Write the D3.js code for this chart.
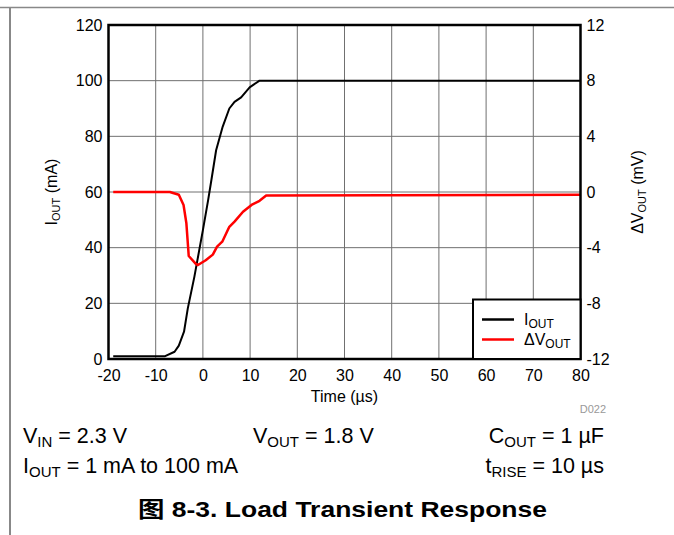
<!DOCTYPE html>
<meta charset="utf-8">
<style>
body { margin: 0; background: #fff; }
svg { font-family: "Liberation Sans", Arial, "Noto Sans CJK SC", sans-serif; }
</style>
<svg width="674" height="535"></svg>
<script src="https://d3js.org/d3.v7.min.js"></script>
<script>
// time axis (us) and tick values
var xTicks = [-20, -10, 0, 10, 20, 30, 40, 50, 60, 70, 80]
var leftTicks = [0, 20, 40, 60, 80, 100, 120]
var rightTicks = [-12, -8, -4, 0, 4, 8, 12]

// I_OUT (mA)
var iOutTime = [-19, -8, -6, -5.1, -4, -3.2, -1.8, 0, 1.1, 1.8, 2.8, 4.2, 5.6, 6.7, 8.1, 9.9, 12, 80]
var iOutMa   = [1, 1, 2.6, 4.8, 9.8, 18.2, 29.6, 46.3, 57, 64.3, 75, 83.5, 90, 92.4, 94, 97.6, 100, 100]

// delta V_OUT (mV)
var dvTime = [-19, -7, -5.1, -4.1, -3.5, -3.0, -1.5, -1.05, 0.6, 2.1, 3.0, 4.1, 5.6, 6.7, 8.5, 10.3, 12, 13.4, 80]
var dvMv   = [0, 0, -0.2, -0.93, -2.25, -4.6, -5.17, -5.25, -4.9, -4.5, -3.93, -3.57, -2.5, -2.13, -1.42, -0.93, -0.63, -0.25, -0.2]

const svg = d3.select('svg')
const pL = 108.5, pT = 25, pW = 472, pH = 334

// page border lines
svg.append('line').attr('x1', 0).attr('x2', 674).attr('y1', 7.5).attr('y2', 7.5)
	.attr('stroke', '#888').attr('stroke-width', 1.5)
svg.append('line').attr('x1', 10).attr('x2', 10).attr('y1', 7.5).attr('y2', 535)
	.attr('stroke', '#888').attr('stroke-width', 2)

const x = d3.scaleLinear().domain([-20, 80]).range([pL, pL + pW])
const yL = d3.scaleLinear().domain([0, 120]).range([pT + pH, pT])
const yR = d3.scaleLinear().domain([-12, 12]).range([pT + pH, pT])

// grid
const grid = svg.append('g').attr('stroke', '#707070').attr('stroke-width', 1)
grid.selectAll('.vx').data(xTicks.slice(1, -1)).enter().append('line')
	.attr('x1', d => x(d)).attr('x2', d => x(d)).attr('y1', pT).attr('y2', pT + pH)
grid.selectAll('.hy').data(leftTicks.slice(1, -1)).enter().append('line')
	.attr('x1', pL).attr('x2', pL + pW).attr('y1', d => yL(d)).attr('y2', d => yL(d))

// axes (plain hyphen minus like the original)
const fmt = d => String(d)
function styleAxis(g) {
	g.select('.domain').remove()
	g.selectAll('.tick line').remove()
	g.selectAll('.tick text').attr('font-size', 16).attr('fill', '#000')
		.attr('font-family', '"Liberation Sans", Arial, sans-serif')
}
svg.append('g').attr('transform', `translate(${pL},0)`)
	.call(d3.axisLeft(yL).tickValues(leftTicks).tickFormat(fmt).tickSize(0).tickPadding(6))
	.call(styleAxis)
svg.append('g').attr('transform', `translate(${pL + pW},0)`)
	.call(d3.axisRight(yR).tickValues(rightTicks).tickFormat(fmt).tickSize(0).tickPadding(6))
	.call(styleAxis)
svg.append('g').attr('transform', `translate(0,${pT + pH})`)
	.call(d3.axisBottom(x).tickValues(xTicks).tickFormat(fmt).tickSize(0).tickPadding(11))
	.call(styleAxis)

// curves
const lineI = d3.line().x((d, i) => x(iOutTime[i])).y(d => yL(d))
const lineV = d3.line().x((d, i) => x(dvTime[i])).y(d => yR(d))
svg.append('path').datum(iOutMa).attr('d', lineI)
	.attr('fill', 'none').attr('stroke', '#000').attr('stroke-width', 2).attr('stroke-linejoin', 'round')
svg.append('path').datum(dvMv).attr('d', lineV)
	.attr('fill', 'none').attr('stroke', '#ff0000').attr('stroke-width', 2.5).attr('stroke-linejoin', 'round')

// frame
svg.append('rect').attr('x', pL).attr('y', pT).attr('width', pW).attr('height', pH)
	.attr('fill', 'none').attr('stroke', '#000').attr('stroke-width', 2.5)

// legend
const lg = svg.append('g')
lg.append('rect').attr('x', 473).attr('y', 299.5).attr('width', pL + pW - 473).attr('height', pT + pH - 299.5)
	.attr('fill', '#fff').attr('stroke', '#000').attr('stroke-width', 2)
const legendItems = [{ main: 'I', sub: 'OUT', color: '#000', y: 319.5 }, { main: '\u0394V', sub: 'OUT', color: '#ff0000', y: 339.5 }]
legendItems.forEach(it => {
	lg.append('line').attr('x1', 482).attr('x2', 514).attr('y1', it.y).attr('y2', it.y)
		.attr('stroke', it.color).attr('stroke-width', 2.5)
	const t = lg.append('text').attr('x', 524).attr('y', it.y + 5).attr('font-size', 16)
	t.append('tspan').text(it.main)
	t.append('tspan').attr('font-size', 12).attr('dy', 3).text(it.sub)
})

// axis titles
function subText(sel, parts, size, subSize, shift) {
	parts.forEach(p => {
		if (p.sub) sel.append('tspan').attr('font-size', subSize).attr('dy', shift).text(p.sub)
		else sel.append('tspan').attr('font-size', size).attr('dy', p.back ? -shift : 0).text(p.t)
	})
}
const yl = svg.append('text').attr('transform', 'translate(57,192) rotate(-90)').attr('text-anchor', 'middle')
subText(yl, [{ t: 'I' }, { sub: 'OUT' }, { t: ' (mA)', back: true }], 16, 11, 3)
const yr = svg.append('text').attr('transform', 'translate(643,192) rotate(-90)').attr('text-anchor', 'middle')
subText(yr, [{ t: '\u0394V' }, { sub: 'OUT' }, { t: ' (mV)', back: true }], 16, 11, 3)
svg.append('text').attr('x', x(30)).attr('y', 402).attr('text-anchor', 'middle').attr('font-size', 16).text('Time (\u00b5s)')
svg.append('text').attr('x', 606).attr('y', 413).attr('text-anchor', 'end').attr('font-size', 11)
	.attr('fill', '#999').text('D022')

// conditions
function cond(xp, yp, anchor, parts) {
	const t = svg.append('text').attr('x', xp).attr('y', yp).attr('text-anchor', anchor)
	subText(t, parts, 21.5, 15, 4)
}
cond(23, 443, 'start', [{ t: 'V' }, { sub: 'IN' }, { t: ' = 2.3 V', back: true }])
cond(253, 443, 'start', [{ t: 'V' }, { sub: 'OUT' }, { t: ' = 1.8 V', back: true }])
cond(604, 443, 'end', [{ t: 'C' }, { sub: 'OUT' }, { t: ' = 1 \u00b5F', back: true }])
cond(23, 473, 'start', [{ t: 'I' }, { sub: 'OUT' }, { t: ' = 1 mA to 100 mA', back: true }])
cond(604, 473, 'end', [{ t: 't' }, { sub: 'RISE' }, { t: ' = 10 \u00b5s', back: true }])

svg.append('text').attr('x', 138).attr('y', 517)
	.attr('font-size', 22).attr('font-weight', 'bold')
	.attr('textLength', 409).attr('lengthAdjust', 'spacingAndGlyphs')
	.text('\u56fe 8-3. Load Transient Response')
</script>
